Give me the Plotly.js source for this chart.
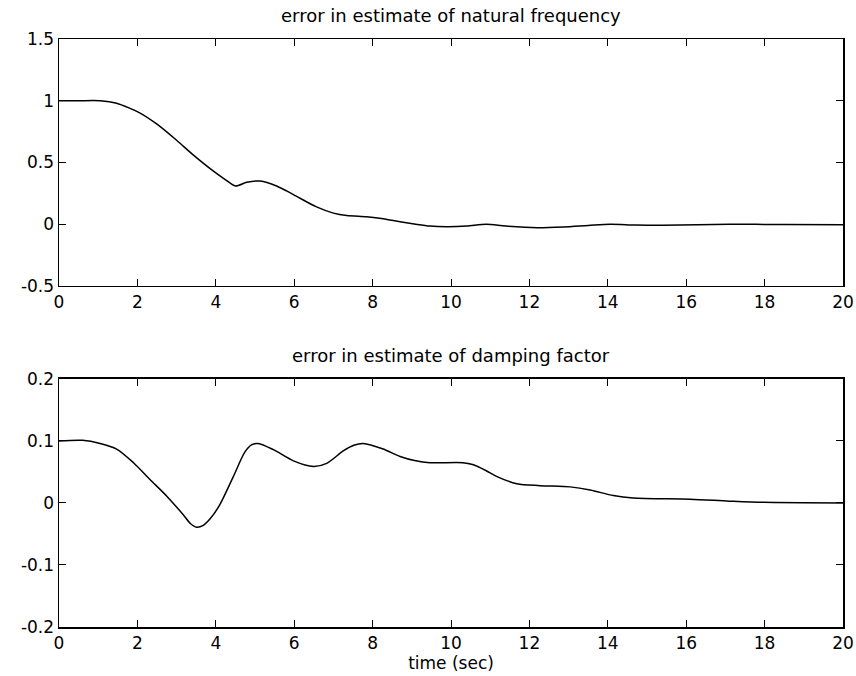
<!DOCTYPE html>
<html>
<head>
<meta charset="utf-8">
<script src="https://cdn.plot.ly/plotly-3.0.1.min.js"></script>
<style>html,body{margin:0;padding:0;background:#fff;}#chart{width:856px;height:676px;}</style>
</head>
<body>
<div id="chart"></div>
<script>
// Top panel: error in estimate of natural frequency
const tFreq = [0, 0.5, 1.05, 1.47, 1.8, 2.07, 2.5, 3.0, 3.43, 3.94, 4.25, 4.5, 4.79, 5.13, 5.55, 5.98, 6.57, 7.0, 7.34, 7.85, 8.27, 8.7, 9.1, 9.46, 9.9, 10.4, 10.9, 11.4, 12.2, 12.87, 13.5, 14.06, 14.7, 15.4, 17.1, 18.5, 20];
const errFreq = [1.0, 1.0, 1.0, 0.98, 0.94, 0.90, 0.81, 0.68, 0.56, 0.43, 0.36, 0.31, 0.34, 0.35, 0.31, 0.24, 0.14, 0.09, 0.07, 0.06, 0.045, 0.02, 0.0, -0.015, -0.02, -0.015, 0.0, -0.015, -0.028, -0.022, -0.01, 0.0, -0.006, -0.008, 0.0, -0.003, -0.005];

// Bottom panel: error in estimate of damping factor
const tDamp = [0, 0.6, 1.05, 1.47, 1.9, 2.32, 2.75, 3.17, 3.35, 3.51, 3.68, 3.85, 4.1, 4.45, 4.74, 4.92, 5.08, 5.47, 5.98, 6.49, 6.83, 7.25, 7.52, 7.76, 8.27, 8.7, 9.1, 9.46, 10.3, 10.55, 10.9, 11.16, 11.68, 12.27, 13.04, 13.55, 14.14, 14.65, 16.1, 17.1, 17.97, 20];
const errDamp = [0.10, 0.101, 0.096, 0.087, 0.065, 0.038, 0.011, -0.019, -0.033, -0.039, -0.036, -0.026, -0.003, 0.043, 0.082, 0.094, 0.096, 0.086, 0.068, 0.059, 0.064, 0.084, 0.093, 0.096, 0.087, 0.075, 0.068, 0.065, 0.065, 0.062, 0.052, 0.043, 0.031, 0.028, 0.026, 0.021, 0.012, 0.008, 0.006, 0.003, 0.001, 0.0];

const xTicks = [0, 2, 4, 6, 8, 10, 12, 14, 16, 18, 20];
const xTickText = ["0", "2", "4", "6", "8", "10", "12", "14", "16", "18", "20"];
const yTicksTop = [-0.5, 0, 0.5, 1, 1.5];
const yTickTextTop = ["-0.5", "0", "0.5", "1", "1.5"];
const yTicksBot = [-0.2, -0.1, 0, 0.1, 0.2];
const yTickTextBot = ["-0.2", "-0.1", "0", "0.1", "0.2"];

const titleTop = "error in estimate of natural frequency";
const titleBot = "error in estimate of damping factor";
const xLabel = "time (sec)";

const FONT = "DejaVu Sans, Arial, Helvetica, sans-serif";

const axisCommon = {
  showgrid: false, zeroline: false, showline: true, mirror: 'ticks',
  linecolor: '#000', linewidth: 1.5, ticks: 'inside', ticklen: 7,
  tickcolor: '#000', tickwidth: 1, tickfont: {family: FONT, size: 17, color: '#000'}
};

const traces = [
  {x: tFreq, y: errFreq, type: 'scatter', mode: 'lines', line: {color: '#000', width: 1.5, shape: 'spline', smoothing: 0.8}, xaxis: 'x', yaxis: 'y', hoverinfo: 'skip'},
  {x: tDamp, y: errDamp, type: 'scatter', mode: 'lines', line: {color: '#000', width: 1.5, shape: 'spline', smoothing: 0.8}, xaxis: 'x2', yaxis: 'y2', hoverinfo: 'skip'}
];

const layout = {
  width: 856, height: 676,
  margin: {l: 59, r: 13, t: 39, b: 49},
  paper_bgcolor: '#fff', plot_bgcolor: '#fff',
  showlegend: false,
  font: {family: FONT, color: '#000'},
  xaxis: Object.assign({}, axisCommon, {domain: [0, 1], range: [0, 20], anchor: 'y', tickvals: xTicks, ticktext: xTickText}),
  yaxis: Object.assign({}, axisCommon, {domain: [0.58, 1], range: [-0.5, 1.5], anchor: 'x', tickvals: yTicksTop, ticktext: yTickTextTop}),
  xaxis2: Object.assign({}, axisCommon, {domain: [0, 1], range: [0, 20], anchor: 'y2', tickvals: xTicks, ticktext: xTickText,
    title: {text: xLabel, font: {family: FONT, size: 17, color: '#000'}, standoff: 5}}),
  yaxis2: Object.assign({}, axisCommon, {domain: [0, 0.4218], range: [-0.2, 0.2], anchor: 'x2', tickvals: yTicksBot, ticktext: yTickTextBot}),
  annotations: [
    {text: titleTop, xref: 'paper', yref: 'paper', x: 0.5, y: 1, yshift: 11, xanchor: 'center', yanchor: 'bottom', showarrow: false, font: {family: FONT, size: 18, color: '#000'}},
    {text: titleBot, xref: 'paper', yref: 'paper', x: 0.5, y: 0.4218, yshift: 11, xanchor: 'center', yanchor: 'bottom', showarrow: false, font: {family: FONT, size: 18, color: '#000'}}
  ]
};

Plotly.newPlot('chart', traces, layout, {staticPlot: true, displayModeBar: false});
</script>
</body>
</html>
